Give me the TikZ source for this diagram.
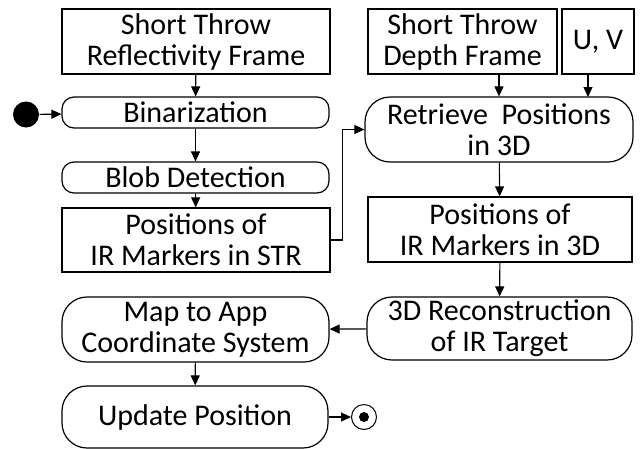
\documentclass[tikz,border=0pt]{standalone}
\usepackage{fontspec}
\setmainfont{Carlito}
\usetikzlibrary{arrows.meta,calc}
\begin{document}
\begin{tikzpicture}[x=1pt,y=-1pt,
  every node/.style={font=\fontsize{30}{31}\selectfont, align=center, inner sep=0pt, line width=1.2pt},
  rbox/.style={draw, rectangle},
  act/.style={draw, rectangle, rounded corners=#1},
  act/.default=12pt,
  arr/.style={line width=1.1pt, -{Triangle[length=10pt,width=9pt]}},
  line width=1.1pt]
\useasboundingbox (0,0) rectangle (642,448);
\node[rbox, minimum width=268pt, minimum height=65pt] (strf) at (196,41.5) {Short Throw\\Reflectivity Frame};
\node[act=12pt, minimum width=267pt, minimum height=31pt] (bin) at (195.5,112.5) {Binarization};
\node[act=12pt, minimum width=267pt, minimum height=31pt] (blob) at (195.5,177.5) {Blob Detection};
\node[rbox, minimum width=268pt, minimum height=64pt] (str) at (196,240) {Positions of\\IR Markers in STR};
\node[rbox, minimum width=189pt, minimum height=65pt] (stdf) at (462.5,41.5) {Short Throw\\Depth Frame};
\node[rbox, minimum width=72pt, minimum height=65pt] (uv) at (598,41.5) {U, V};
\node[act=25pt, minimum width=268pt, minimum height=65pt] (ret) at (499,129.5) {Retrieve~ Positions\\in 3D};
\node[rbox, minimum width=264pt, minimum height=65pt] (pos) at (500,229.5) {Positions of\\IR Markers in 3D};
\node[act=25pt, minimum width=265pt, minimum height=63pt] (rec) at (499.5,328.5) {3D Reconstruction\\of IR Target};
\node[act=25pt, minimum width=267pt, minimum height=65pt] (map) at (195.5,329.5) {Map to App\\Coordinate System};
\node[act=25pt, minimum width=266pt, minimum height=62pt] (upd) at (195,417) {Update Position};
\node[circle, fill=black, minimum size=26pt] (start) at (26,114.5) {};
\node[circle, draw, line width=1pt, minimum size=25pt] (end) at (364,417) {};
\node[circle, fill=black, minimum size=10pt] (endin) at (364,417) {};
\draw[arr] (start) -- (bin);
\draw[arr] (strf) -- (bin);
\draw[arr] (bin) -- (blob);
\draw[arr] (blob) -- (str);
\draw[arr] (str.east) -- ++(12,0) |- (ret.west);
\draw[arr] (ret.north |- stdf.south) -- (ret.north);
\coordinate (uvend) at (588,97);
\draw[arr] (uvend |- uv.south) -- (uvend);
\draw[arr] (ret) -- (pos);
\draw[arr] (pos) -- (rec);
\draw[arr] (rec) -- (map);
\draw[arr] (map) -- (upd);
\draw[arr] (upd) -- (end);
\end{tikzpicture}
\end{document}
